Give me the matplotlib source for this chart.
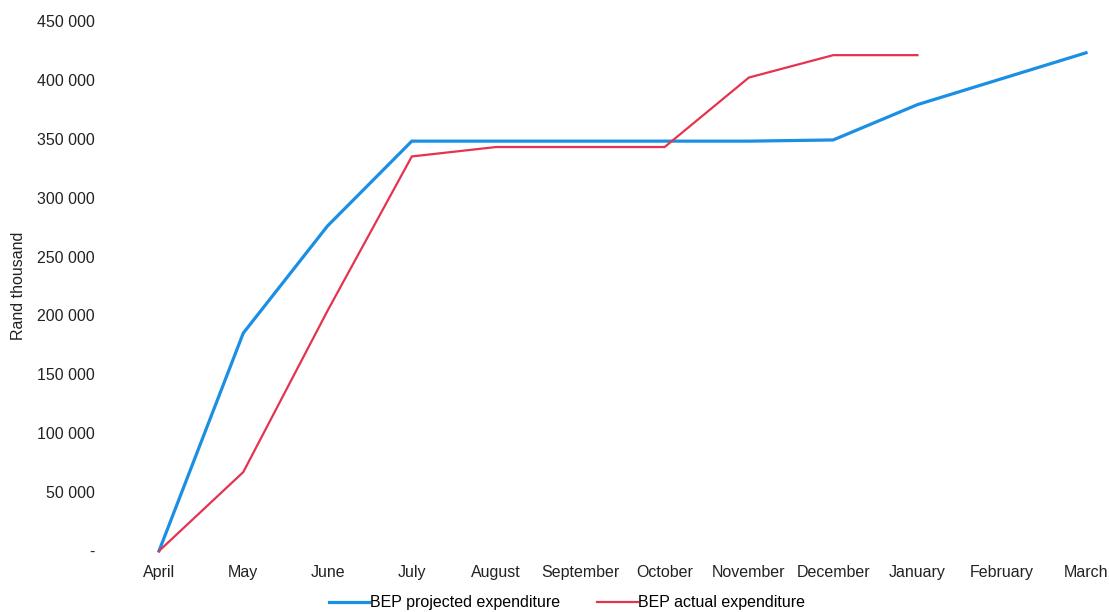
import matplotlib
matplotlib.use("Agg")
import matplotlib.pyplot as plt
from matplotlib.ticker import FuncFormatter

plt.rcParams['font.family'] = ['Liberation Sans', 'DejaVu Sans']

months = ["April", "May", "June", "July", "August", "September", "October",
          "November", "December", "January", "February", "March"]
projected = [0, 185000, 276000, 348000, 348000, 348000, 348000, 348000,
             349000, 379000, 401000, 423000]
actual = [0, 67000, 204000, 335000, 343000, 343000, 343000, 402000,
          421000, 421000]
y_ticks = list(range(0, 450001, 50000))

fig = plt.figure(figsize=(11.09, 6.12), dpi=100)
ax = fig.add_axes([159 / 1109, 61 / 612, 927 / 1109, 530 / 612])

x_proj = list(range(len(projected)))
x_act = list(range(len(actual)))
ax.plot(x_proj, projected, color="#1A8FE3", lw=2.3, clip_on=False,
        solid_joinstyle="miter", label="BEP projected expenditure", zorder=2)
ax.plot(x_act, actual, color="#E5334F", lw=1.6, clip_on=False,
        solid_joinstyle="miter", label="BEP actual expenditure", zorder=3)

ax.set_xlim(0, len(months) - 1)
ax.set_ylim(0, 450000)
ax.set_xticks(range(len(months)))
ax.set_xticklabels(months)
ax.set_yticks(y_ticks)


def fmt(v, _):
    if v == 0:
        return "-"
    return f"{int(v):,}".replace(",", " ")


ax.yaxis.set_major_formatter(FuncFormatter(fmt))
ax.tick_params(axis="both", length=0, labelsize=11.5, colors="#222222")
ax.tick_params(axis="y", pad=46)
ax.tick_params(axis="x", pad=10)
for s in ax.spines.values():
    s.set_visible(False)

ax.set_ylabel("Rand thousand", fontsize=11.5, color="#222222", labelpad=8)

fig.legend(loc="center", bbox_to_anchor=(567 / 1109, 1 - 603 / 612),
           ncol=2, frameon=False, fontsize=11.5, handlelength=2.55,
           handletextpad=0.05, columnspacing=2.3)

fig.savefig("out.png", dpi=100, facecolor="white")
